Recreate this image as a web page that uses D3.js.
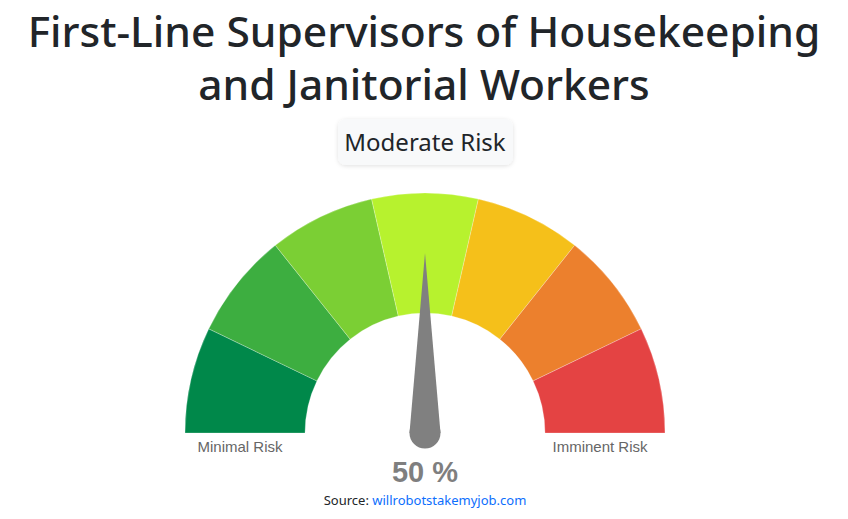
<!DOCTYPE html>
<html>
<head>
<meta charset="utf-8">
<script src="https://cdn.jsdelivr.net/npm/d3@7"></script>
<style>
  body { margin: 0; background: #fff; }
  svg { display: block; }
</style>
</head>
<body>
<div id="frame"></div>
<script>
var titleLines = ["First-Line Supervisors of Housekeeping", "and Janitorial Workers"];
var riskLabel = "Moderate Risk";
var segmentColours = ["#00884a", "#3dae40", "#7bcf34", "#b7f22e", "#f5c01a", "#ec802d", "#e44343"];
var endLabels = ["Minimal Risk", "Imminent Risk"];
var gaugeValue = 50;
var sourceHost = "willrobotstakemyjob.com";

var width = 848, height = 519;
var svg = d3.select('#frame').append('svg').attr('width', width).attr('height', height);

// title
svg.selectAll('text.title')
  .data(titleLines)
  .enter().append('text')
  .attr('class', 'title')
  .attr('x', 424)
  .attr('y', function(d, i) { return 47 + i * 53; })
  .attr('text-anchor', 'middle')
  .attr('font-family', '"Noto Sans", sans-serif')
  .attr('font-size', '42.5px')
  .attr('font-weight', 500)
  .attr('fill', '#212529')
  .text(function(d) { return d; });

// risk badge
var badge = svg.append('g');
var defs = svg.append('defs');
var f = defs.append('filter').attr('id', 'shadow').attr('x', '-20%').attr('y', '-20%').attr('width', '140%').attr('height', '160%');
f.append('feDropShadow').attr('dx', 0).attr('dy', 1).attr('stdDeviation', 2).attr('flood-color', '#000').attr('flood-opacity', 0.12);
badge.append('rect')
  .attr('x', 338).attr('y', 119).attr('width', 175).attr('height', 46)
  .attr('rx', 8).attr('fill', '#f8f9fa')
  .attr('filter', 'url(#shadow)');
badge.append('text')
  .attr('x', 425).attr('y', 151)
  .attr('text-anchor', 'middle')
  .attr('font-family', '"Noto Sans", sans-serif')
  .attr('font-size', '24px')
  .attr('fill', '#212529')
  .text(riskLabel);

// gauge
var cx = 425, cy = 433;
var outerR = 240, innerR = 120;
var g = svg.append('g').attr('transform', 'translate(' + cx + ',' + cy + ')');

var angle = d3.scaleLinear().domain([0, segmentColours.length]).range([-Math.PI / 2, Math.PI / 2]);
var arc = d3.arc().innerRadius(innerR).outerRadius(outerR);

g.selectAll('path.seg')
  .data(segmentColours)
  .enter().append('path')
  .attr('class', 'seg')
  .attr('d', function(d, i) { return arc({startAngle: angle(i), endAngle: angle(i + 1)}); })
  .attr('fill', function(d) { return d; })
  .attr('stroke', 'rgba(255,255,255,0.25)')
  .attr('stroke-width', 1);

// end labels
var labelX = d3.scalePoint().domain(endLabels).range([-185, 175]);
g.selectAll('text.endlab')
  .data(endLabels)
  .enter().append('text')
  .attr('class', 'endlab')
  .attr('x', function(d) { return labelX(d); })
  .attr('y', 19)
  .attr('text-anchor', 'middle')
  .attr('font-family', '"Liberation Sans", Arial, sans-serif')
  .attr('font-size', '15px')
  .attr('fill', '#666')
  .text(function(d) { return d; });

// needle
var valueAngle = d3.scaleLinear().domain([0, 100]).range([-Math.PI / 2, Math.PI / 2]);
var needleLen = 180, needleR = 15.5;
var needle = g.append('g')
  .attr('transform', 'rotate(' + (valueAngle(gaugeValue) * 180 / Math.PI) + ')');
needle.append('path')
  .attr('d', 'M' + (-needleR) + ',0 L0,' + (-needleLen) + ' L' + needleR + ',0 Z')
  .attr('fill', '#808080');
needle.append('circle')
  .attr('cx', 0).attr('cy', 0).attr('r', needleR)
  .attr('fill', '#808080');

// value
g.append('text')
  .attr('x', 0).attr('y', 49)
  .attr('text-anchor', 'middle')
  .attr('font-family', '"Liberation Sans", Arial, sans-serif')
  .attr('font-size', '29px')
  .attr('font-weight', 'bold')
  .attr('fill', '#7f7f7f')
  .text(gaugeValue + ' %');

// source
var src = svg.append('text')
  .attr('x', 425).attr('y', 505)
  .attr('text-anchor', 'middle')
  .attr('font-family', '"Noto Sans", sans-serif')
  .attr('font-size', '13px')
  .attr('fill', '#212529');
src.append('tspan').text('Source: ');
src.append('tspan').attr('fill', '#0d6efd').text(sourceHost);
</script>
</body>
</html>
